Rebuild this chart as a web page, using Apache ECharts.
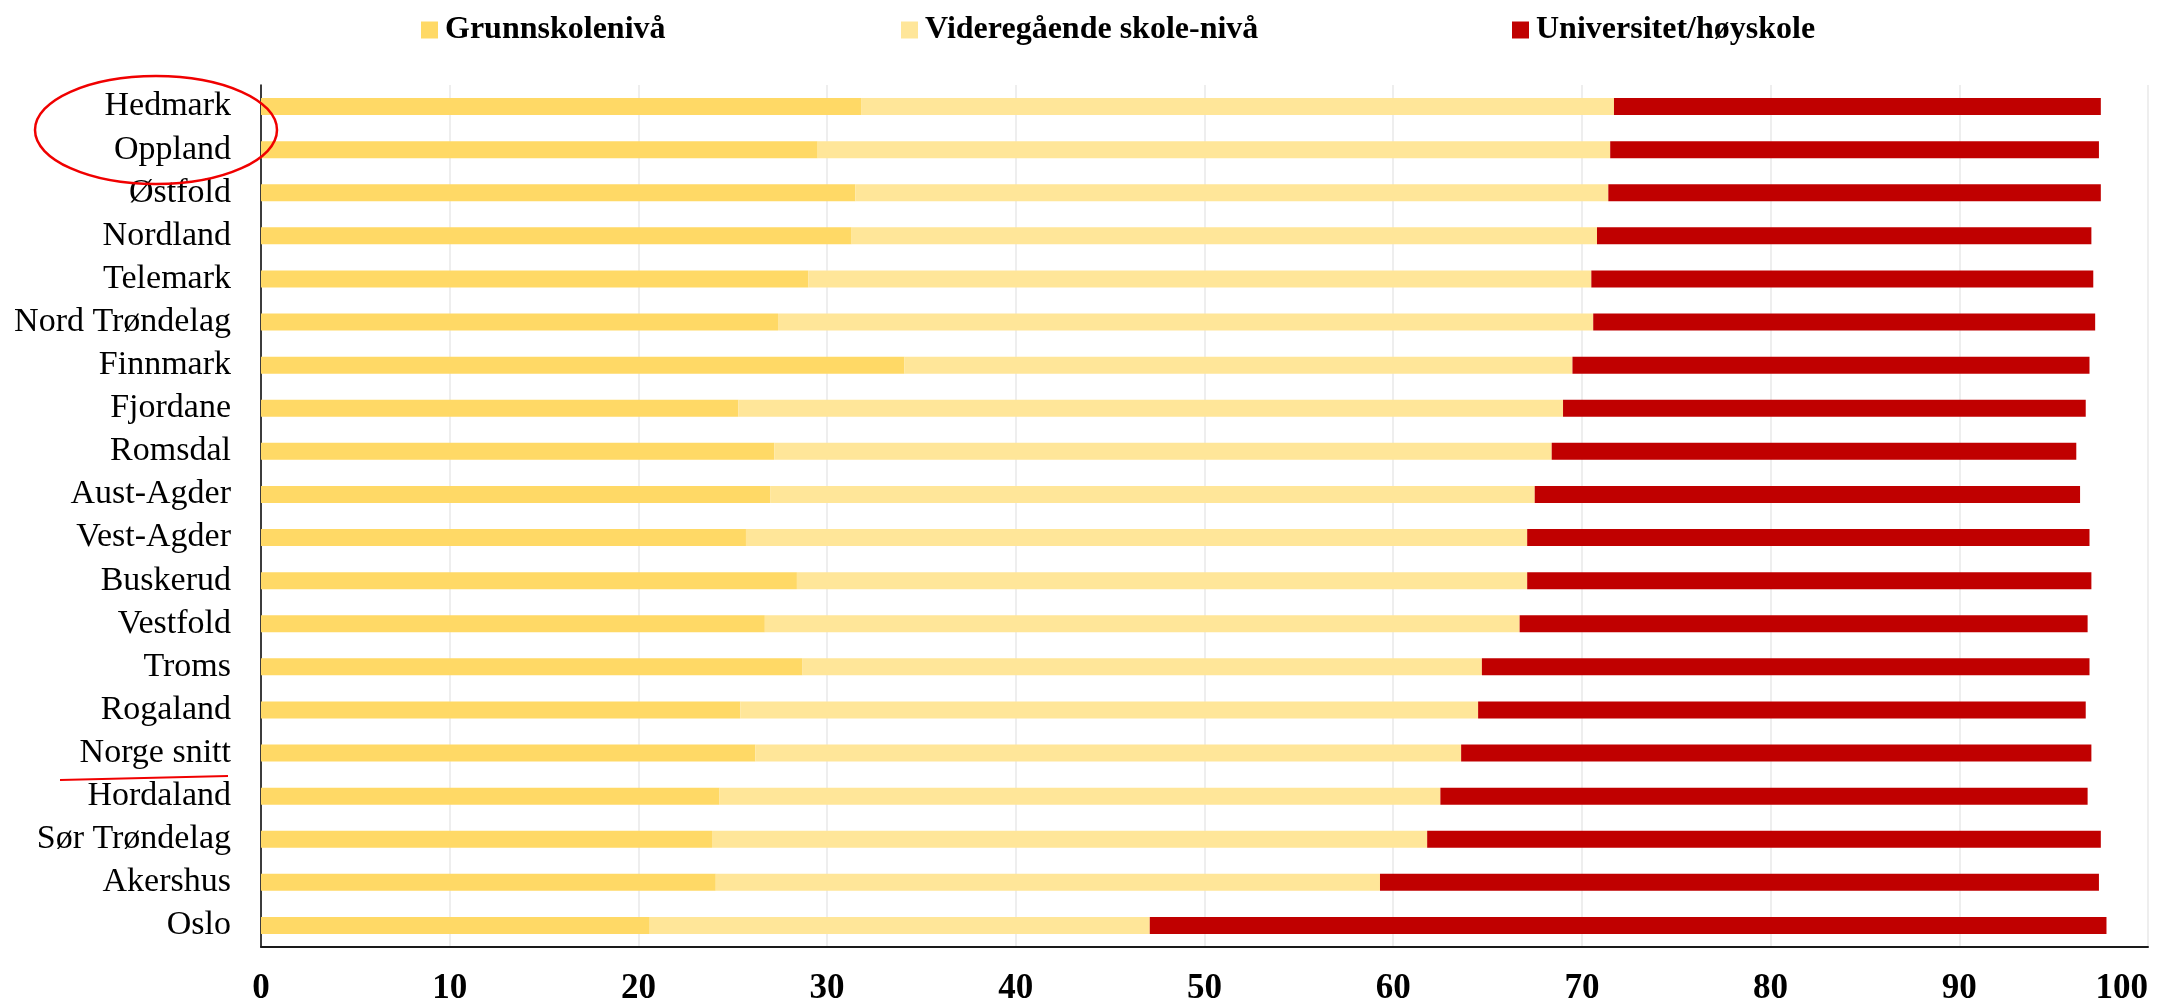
<!DOCTYPE html>
<html>

<head>
    <meta charset="utf-8" />
    <script src="https://cdn.jsdelivr.net/npm/echarts@6/dist/echarts.min.js"></script>
</head>

<body style="margin:0;background:#fff;">
<div id="main" style="width: 2181px;height:1006px;"></div>

<script>
    // fylker, ovenfra og ned
    var fylker = ['Hedmark', 'Oppland', 'Østfold', 'Nordland', 'Telemark', 'Nord Trøndelag', 'Finnmark',
        'Fjordane', 'Romsdal', 'Aust-Agder', 'Vest-Agder', 'Buskerud', 'Vestfold', 'Troms', 'Rogaland',
        'Norge snitt', 'Hordaland', 'Sør Trøndelag', 'Akershus', 'Oslo'];

    var grunnskole = [31.8, 29.5, 31.5, 31.3, 29.0, 27.4, 34.1, 25.3, 27.2, 27.0,
        25.7, 28.4, 26.7, 28.7, 25.4, 26.2, 24.3, 23.9, 24.1, 20.6];
    var videregaende = [39.9, 42.0, 39.9, 39.5, 41.5, 43.2, 35.4, 43.7, 41.2, 40.5,
        41.4, 38.7, 40.0, 36.0, 39.1, 37.4, 38.2, 37.9, 35.2, 26.5];
    var universitet = [25.8, 25.9, 26.1, 26.2, 26.6, 26.6, 27.4, 27.7, 27.8, 28.9,
        29.8, 29.9, 30.1, 32.2, 32.2, 33.4, 34.3, 35.7, 38.1, 50.7];

    var serieNavn = ['Grunnskolenivå', 'Videregående skole-nivå', 'Universitet/høyskole'];
    var farger = ['#FFD966', '#FFE699', '#C00000'];
    var xTicks = [0, 10, 20, 30, 40, 50, 60, 70, 80, 90, 100];

    var serif = '"Liberation Serif", "DejaVu Serif", serif';

    var chartDom = document.getElementById('main');
    var myChart = echarts.init(chartDom);
    var option;

    var legendLeft = [416, 896, 1507];

    option = {
        animation: false,
        backgroundColor: '#fff',
        legend: serieNavn.map(function(n, i) {
            return {
                data: [n],
                left: legendLeft[i],
                top: 9,
                itemWidth: 17,
                itemHeight: 17,
                icon: 'rect',
                selectedMode: false,
                textStyle: {
                    fontFamily: serif,
                    fontWeight: 'bold',
                    fontSize: 32,
                    color: '#000',
                    padding: [0, 0, 0, 2]
                }
            };
        }),
        grid: {
            left: 261,
            right: 33,
            top: 85,
            bottom: 56,
            containLabel: false
        },
        xAxis: {
            type: 'value',
            min: xTicks[0],
            max: xTicks[xTicks.length - 1],
            interval: 10,
            axisLine: {
                show: true,
                lineStyle: { color: '#1a1a1a', width: 2 }
            },
            axisTick: { show: false },
            splitLine: {
                show: true,
                lineStyle: { color: '#e8e8e8', width: 1.5 }
            },
            axisLabel: {
                margin: 24,
                fontFamily: serif,
                fontWeight: 'bold',
                fontSize: 35,
                color: '#000',
                alignMaxLabel: 'right'
            }
        },
        yAxis: {
            type: 'category',
            inverse: true,
            data: fylker,
            axisLine: {
                show: true,
                lineStyle: { color: '#000', width: 1.5 }
            },
            axisTick: { show: false },
            axisLabel: {
                interval: 0,
                margin: 30,
                fontFamily: serif,
                fontSize: 34,
                color: '#000'
            }
        },
        series: [grunnskole, videregaende, universitet].map(function(d, i) {
            return {
                name: serieNavn[i],
                type: 'bar',
                stack: 'sum',
                barWidth: 17,
                itemStyle: { color: farger[i] },
                data: d
            };
        }),
        // røde markeringer
        graphic: [{
            type: 'ellipse',
            shape: { cx: 156, cy: 130, rx: 121, ry: 54 },
            style: { fill: 'none', stroke: '#f00000', lineWidth: 2.5 },
            z: 100
        }, {
            type: 'line',
            shape: { x1: 60, y1: 780, x2: 228, y2: 776 },
            style: { stroke: '#f00000', lineWidth: 2 },
            z: 100
        }]
    };

    option && myChart.setOption(option);
</script>
</body>

</html>
